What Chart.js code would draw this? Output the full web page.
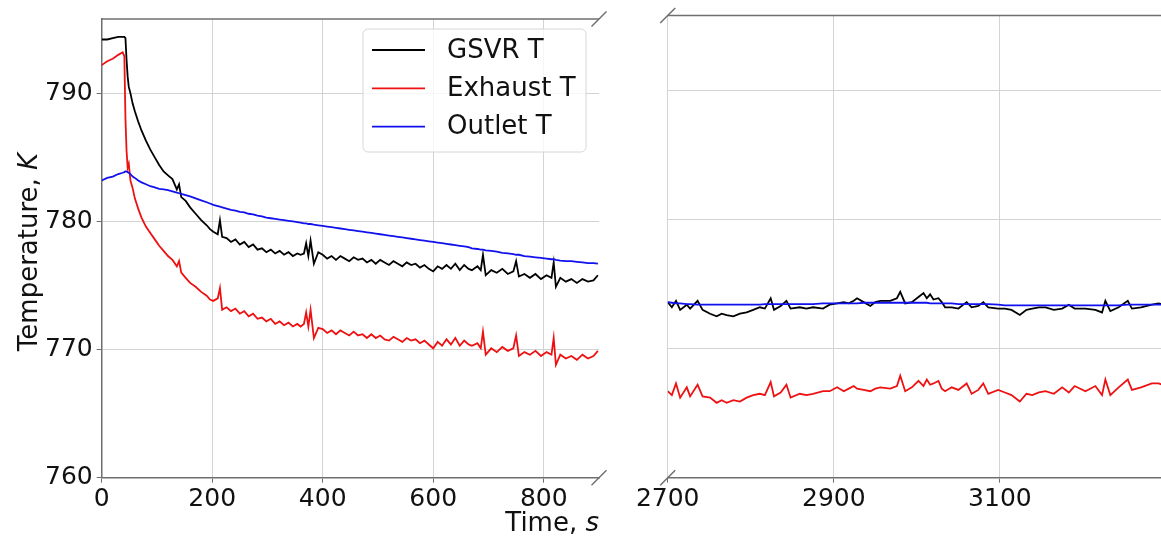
<!DOCTYPE html>
<html>
<head>
<meta charset="utf-8">
<script src="https://cdn.jsdelivr.net/npm/chart.js@4.4.1/dist/chart.umd.min.js"></script>
<style>
  html, body { margin: 0; padding: 0; background: #fff; }
  #wrap { position: relative; width: 1161px; height: 537px; overflow: hidden; }
  #left { position: absolute; left: 0; top: 0; }
  #right { position: absolute; left: 630px; top: 0; }
</style>
</head>
<body>
<div id="wrap">
  <canvas id="left" width="630" height="537"></canvas>
  <canvas id="right" width="531" height="537"></canvas>
</div>
<script>
// series names
const seriesNames = ['GSVR T', 'Exhaust T', 'Outlet T'];
const seriesColors = ['#000000', '#ee1111', '#1111ee'];

// left part: 0 .. 900 s
const timeLeft = [
  0, 10, 20, 30, 38, 41, 43, 45, 47, 49,
  52, 56, 60, 66, 72, 80, 88, 96, 104, 112,
  120, 128, 136, 140, 144, 152, 160, 170, 180, 190,
  196, 202, 210, 214, 218,
  226, 234, 242, 250, 258, 266, 274, 282, 290, 298, 306, 314, 322, 330, 338, 346, 354, 360,
  366, 370, 374, 378, 384, 392,
  400, 408, 416, 424, 432, 440, 448, 456, 464, 472, 480, 488, 496, 504, 512, 520, 528,
  536, 544, 552, 560, 568, 576, 584, 592, 600, 608, 616, 624, 632, 640, 648, 656, 664,
  670, 680, 686, 690, 695, 705, 715, 725, 735, 745,
  750, 755, 765, 775, 785, 795, 805, 814, 818, 822,
  830, 840, 850, 860, 870, 880, 890, 898
];
const gsvrLeft = [
  794.2, 794.2, 794.3, 794.4, 794.4, 794.4, 794.3, 792.6, 791.3, 790.5,
  790.0, 789.2, 788.6, 787.8, 787.1, 786.3, 785.6, 785.0, 784.4, 783.9,
  783.6, 783.3, 782.5, 782.9, 781.9, 781.6, 781.1, 780.6, 780.1, 779.7,
  779.4, 779.2, 779.0, 780.1, 778.8,
  778.7, 778.4, 778.6, 778.2, 778.4, 778.0, 778.2, 777.8, 777.9, 777.6, 777.8, 777.5, 777.7, 777.4, 777.6, 777.3, 777.5, 777.4,
  777.5, 778.3, 777.3, 778.5, 776.7, 777.6,
  777.4, 777.1, 777.3, 777.0, 777.3, 777.1, 776.9, 777.2, 777.0, 777.1, 776.8, 777.0, 776.7, 777.0, 776.8, 776.6, 776.9,
  776.7, 776.5, 776.8, 776.6, 776.7, 776.4, 776.6, 776.3, 776.1, 776.5, 776.3, 776.6, 776.3, 776.7, 776.2, 776.6, 776.3,
  776.2, 776.5, 776.2, 777.4, 775.8, 776.2, 776.0, 776.3, 775.9, 776.1,
  776.9, 775.7, 775.9, 775.6, 775.9, 775.5, 775.8, 775.6, 776.8, 774.9,
  775.6, 775.3, 775.5, 775.2, 775.5, 775.3, 775.4, 775.8
];
const exhaustLeft = [
  792.2, 792.5, 792.7, 793.0, 793.2, 792.9, 788.0, 785.5, 784.2, 784.5,
  783.2, 782.6, 781.8, 781.0, 780.3, 779.6, 779.1, 778.6, 778.1, 777.7,
  777.3, 777.0, 776.5, 776.9, 776.0, 775.6, 775.2, 774.9, 774.5, 774.2,
  773.9, 773.8, 774.0, 774.8, 773.1,
  773.3, 773.0, 773.2, 772.8, 773.0, 772.6, 772.8, 772.4, 772.5, 772.2, 772.4, 772.0, 772.2, 771.9, 772.1, 771.8, 772.0, 771.8,
  772.0, 772.9, 771.8, 773.1, 770.9, 771.7,
  771.6, 771.3, 771.5, 771.2, 771.5, 771.3, 771.1, 771.4, 771.1, 771.2, 770.9, 771.2, 770.9, 771.1, 770.8, 770.7, 771.0,
  770.8, 770.6, 770.9, 770.7, 770.8, 770.5, 770.7, 770.4, 770.1, 770.6, 770.3, 770.8, 770.4, 770.9, 770.3, 770.7, 770.4,
  770.3, 770.5, 770.1, 771.4, 769.6, 770.1, 769.8, 770.2, 769.9, 770.1,
  771.1, 769.5, 769.8, 769.6, 769.9, 769.5, 769.8, 769.6, 770.9, 768.8,
  769.6, 769.3, 769.5, 769.2, 769.6, 769.3, 769.5, 769.9
];
const outletLeft = [
  783.2, 783.4, 783.5, 783.7, 783.8, 783.85, 783.9, 783.9, 783.85, 783.8,
  783.7, 783.5, 783.4, 783.2, 783.05, 782.9, 782.75, 782.65, 782.55, 782.5,
  782.45, 782.35, 782.25, 782.2, 782.15, 782.05, 781.95, 781.8, 781.65, 781.5,
  781.4, 781.3, 781.2, 781.15, 781.1,
  781.0, 780.9, 780.85, 780.75, 780.7, 780.6, 780.55, 780.45, 780.4, 780.3, 780.25, 780.2, 780.15, 780.1, 780.05, 780.0, 779.95, 779.9,
  779.85, 779.85, 779.8, 779.8, 779.75, 779.7,
  779.65, 779.6, 779.55, 779.5, 779.45, 779.4, 779.35, 779.3, 779.25, 779.2, 779.15, 779.1, 779.05, 779.0, 778.95, 778.9, 778.85,
  778.8, 778.75, 778.7, 778.65, 778.6, 778.55, 778.5, 778.45, 778.4, 778.35, 778.3, 778.25, 778.2, 778.15, 778.1, 778.05, 778.0,
  777.9, 777.85, 777.8, 777.8, 777.75, 777.7, 777.65, 777.55, 777.5, 777.45,
  777.4, 777.4, 777.3, 777.25, 777.2, 777.15, 777.1, 777.05, 777.05, 777.0,
  776.95, 776.9, 776.9, 776.85, 776.8, 776.75, 776.75, 776.7
];

// right part: 2700 .. 3300 s
const timeRight = [
  2700, 2705, 2710, 2715, 2723, 2727, 2736, 2742, 2751, 2759,
  2765, 2771, 2779, 2787, 2795, 2803, 2811, 2817, 2824, 2828,
  2836, 2843, 2848, 2859, 2867, 2875, 2887, 2895, 2904, 2912,
  2918, 2924, 2928, 2936, 2944, 2950, 2956, 2968, 2976, 2980,
  2986, 2994, 3002, 3008, 3012, 3016, 3020, 3026, 3030, 3034,
  3042, 3050, 3060, 3066, 3074, 3080, 3086, 3098, 3106, 3114,
  3124, 3132, 3139, 3147, 3155, 3165, 3175, 3183, 3190, 3203,
  3215, 3223, 3227, 3233, 3243, 3254, 3259, 3270, 3283, 3291, 3300
];
const gsvrRight = [
  773.6, 773.2, 773.7, 773.0, 773.4, 773.1, 773.7, 773.0, 772.7, 772.5,
  772.7, 772.6, 772.5, 772.7, 772.8, 773.0, 773.2, 773.1, 773.9, 773.0,
  773.3, 773.7, 773.1, 773.2, 773.1, 773.2, 773.1, 773.4, 773.5, 773.6,
  773.5, 773.7, 773.9, 773.6, 773.3, 773.6, 773.7, 773.7, 773.9, 774.4,
  773.5, 773.6, 774.0, 774.3, 773.9, 774.2, 773.8, 773.9, 773.6, 773.2,
  773.2, 773.1, 773.6, 773.2, 773.3, 773.6, 773.2, 773.1, 773.1, 773.0,
  772.6, 773.0, 773.1, 773.2, 773.2, 773.0, 773.1, 773.4, 773.1, 773.1,
  773.0, 772.8, 773.7, 772.9, 773.2, 773.7, 773.1, 773.2, 773.4, 773.5, 773.4
];
const exhaustRight = [
  766.7, 766.4, 767.3, 766.2, 767.0, 766.3, 767.2, 766.3, 766.2, 765.8,
  766.0, 765.8, 766.0, 765.9, 766.2, 766.4, 766.5, 766.4, 767.4, 766.3,
  766.6, 767.2, 766.2, 766.5, 766.4, 766.5, 766.7, 766.7, 767.0, 766.7,
  766.9, 767.1, 766.9, 766.8, 766.7, 766.9, 767.0, 766.9, 767.1, 767.9,
  766.7, 767.0, 767.5, 767.1, 767.6, 767.2, 767.3, 767.5, 766.9, 766.7,
  767.0, 766.8, 767.3, 766.5, 766.8, 767.3, 766.5, 766.8, 766.6, 766.4,
  765.9, 766.5, 766.4, 766.6, 766.7, 766.5, 767.0, 766.6, 767.1, 766.7,
  767.1, 766.4, 767.6, 766.4, 767.0, 767.6, 766.8, 767.0, 767.3, 767.3, 767.1
];
const outletRight = [
  773.6, 773.55, 773.5, 773.5, 773.45, 773.45, 773.4, 773.4, 773.4, 773.4,
  773.4, 773.4, 773.4, 773.4, 773.4, 773.4, 773.4, 773.45, 773.45, 773.45,
  773.45, 773.45, 773.45, 773.45, 773.45, 773.45, 773.5, 773.5, 773.5, 773.5,
  773.5, 773.5, 773.5, 773.55, 773.55, 773.55, 773.55, 773.55, 773.55, 773.55,
  773.55, 773.55, 773.55, 773.55, 773.55, 773.5, 773.5, 773.5, 773.5, 773.5,
  773.5, 773.45, 773.45, 773.45, 773.45, 773.45, 773.45, 773.4, 773.35, 773.35,
  773.35, 773.35, 773.35, 773.35, 773.35, 773.35, 773.35, 773.35, 773.35, 773.35,
  773.35, 773.35, 773.35, 773.35, 773.35, 773.4, 773.4, 773.4, 773.4, 773.4, 773.4
];

const yTicks = [760, 770, 780, 790];
const xTicksLeft = [0, 200, 400, 600, 800];
const xTicksRight = [2700, 2900, 3100];
const yLabel = ['Temperature, ', 'K'];
const xLabel = ['Time, ', 's'];

const FONT = '"DejaVu Sans", sans-serif';
const SPINE = '#6f6f6f';
const GRID = '#d3d3d3';
const TICK_SIZE = 25;
const TEXT_SIZE = 26;

function pts(xs, ys) {
  return xs.map((x, i) => ({x: x, y: ys[i]}));
}

function makeSets(xs, a, b, c) {
  var vals = [a, b, c];
  return seriesNames.map((name, i) => ({
    label: name,
    data: pts(xs, vals[i]),
    borderColor: seriesColors[i],
    backgroundColor: seriesColors[i],
    borderWidth: 1.8,
    pointRadius: 0,
    tension: 0,
    order: 3 - i
  }));
}

// diagonal break mark
function breakMark(ctx, x, y) {
  ctx.beginPath();
  ctx.moveTo(x - 7.5, y + 7.5);
  ctx.lineTo(x + 7.5, y - 7.5);
  ctx.stroke();
}

// mixed normal / italic text
function mixedWidth(ctx, parts, size) {
  ctx.font = size + 'px ' + FONT;
  var w = ctx.measureText(parts[0]).width;
  ctx.font = 'italic ' + size + 'px ' + FONT;
  return w + ctx.measureText(parts[1]).width;
}
function drawMixed(ctx, parts, size, x, y) {
  ctx.font = size + 'px ' + FONT;
  ctx.fillText(parts[0], x, y);
  var w = ctx.measureText(parts[0]).width;
  ctx.font = 'italic ' + size + 'px ' + FONT;
  ctx.fillText(parts[1], x + w, y);
}

const decoLeft = {
  id: 'decoLeft',
  afterDraw(chart) {
    var ctx = chart.ctx, a = chart.chartArea;
    ctx.save();
    ctx.strokeStyle = SPINE;
    ctx.lineWidth = 1.5;
    ctx.beginPath();
    ctx.moveTo(a.left, a.top);
    ctx.lineTo(a.right, a.top);
    ctx.stroke();
    breakMark(ctx, a.right, a.top);
    breakMark(ctx, a.right, a.bottom);

    // axis labels
    ctx.fillStyle = '#111';
    ctx.textBaseline = 'alphabetic';
    ctx.textAlign = 'left';
    var wx = mixedWidth(ctx, xLabel, TEXT_SIZE);
    drawMixed(ctx, xLabel, TEXT_SIZE, a.right - wx, 531);

    ctx.save();
    ctx.translate(37, 252);
    ctx.rotate(-Math.PI / 2);
    var wy = mixedWidth(ctx, yLabel, TEXT_SIZE);
    drawMixed(ctx, yLabel, TEXT_SIZE, -wy / 2, 0);
    ctx.restore();

    // legend
    var bx = 363, by = 29, bw = 223, bh = 123;
    ctx.fillStyle = 'rgba(255,255,255,0.8)';
    ctx.strokeStyle = '#d6d6d6';
    ctx.lineWidth = 1;
    ctx.beginPath();
    ctx.roundRect(bx, by, bw, bh, 5);
    ctx.fill();
    ctx.stroke();
    ctx.font = TEXT_SIZE + 'px ' + FONT;
    ctx.textBaseline = 'middle';
    chart.data.datasets.forEach((ds, i) => {
      var yy = 50 + i * 38.3;
      ctx.strokeStyle = ds.borderColor;
      ctx.lineWidth = 1.8;
      ctx.beginPath();
      ctx.moveTo(372, yy);
      ctx.lineTo(425, yy);
      ctx.stroke();
      ctx.fillStyle = '#111';
      ctx.fillText(ds.label, 447, yy + 1);
    });
    ctx.restore();
  }
};

const decoRight = {
  id: 'decoRight',
  afterDraw(chart) {
    var ctx = chart.ctx, a = chart.chartArea;
    ctx.save();
    ctx.strokeStyle = SPINE;
    ctx.lineWidth = 1.5;
    ctx.beginPath();
    ctx.moveTo(a.left, a.top);
    ctx.lineTo(a.right, a.top);
    ctx.stroke();
    breakMark(ctx, a.left, a.top);
    breakMark(ctx, a.left, a.bottom);
    ctx.restore();
  }
};

function axes(xMin, xMax, xTicks, yWidth, showY) {
  return {
    x: {
      type: 'linear',
      min: xMin,
      max: xMax,
      afterBuildTicks: (s) => { s.ticks = xTicks.map(v => ({value: v})); },
      afterFit: (s) => { s.height = 537 - 477.7; },
      grid: { color: GRID, lineWidth: 1, tickLength: 5, tickColor: SPINE },
      border: { display: true, color: SPINE, width: 1.5 },
      ticks: {
        color: '#111',
        font: { family: FONT, size: TICK_SIZE },
        padding: 2,
        maxRotation: 0,
        autoSkip: false,
        callback: (v) => String(v)
      }
    },
    y: {
      type: 'linear',
      min: 760,
      max: 795.8,
      afterBuildTicks: (s) => { s.ticks = yTicks.map(v => ({value: v})); },
      afterFit: (s) => { s.width = yWidth; },
      grid: { color: GRID, lineWidth: 1, tickLength: 5, tickColor: SPINE, drawTicks: showY },
      border: { display: showY, color: SPINE, width: 1.5 },
      ticks: {
        display: showY,
        color: '#111',
        font: { family: FONT, size: TICK_SIZE },
        padding: 4,
        callback: (v) => String(v)
      }
    }
  };
}

new Chart(document.getElementById('left'), {
  type: 'line',
  data: { datasets: makeSets(timeLeft, gsvrLeft, exhaustLeft, outletLeft) },
  options: {
    responsive: false,
    animation: false,
    layout: { autoPadding: false, padding: { left: 0, right: 31, top: 15.5, bottom: 0 } },
    plugins: { legend: { display: false }, tooltip: { enabled: false } },
    scales: axes(0, 900, xTicksLeft, 101.7, true)
  },
  plugins: [decoLeft]
});

new Chart(document.getElementById('right'), {
  type: 'line',
  data: { datasets: makeSets(timeRight, gsvrRight, exhaustRight, outletRight) },
  options: {
    responsive: false,
    animation: false,
    layout: { autoPadding: false, padding: { left: 0, right: 0, top: 15.5, bottom: 0 } },
    plugins: { legend: { display: false }, tooltip: { enabled: false } },
    scales: axes(2700, 3294, xTicksRight, 37.7, false)
  },
  plugins: [decoRight]
});
</script>
</body>
</html>
